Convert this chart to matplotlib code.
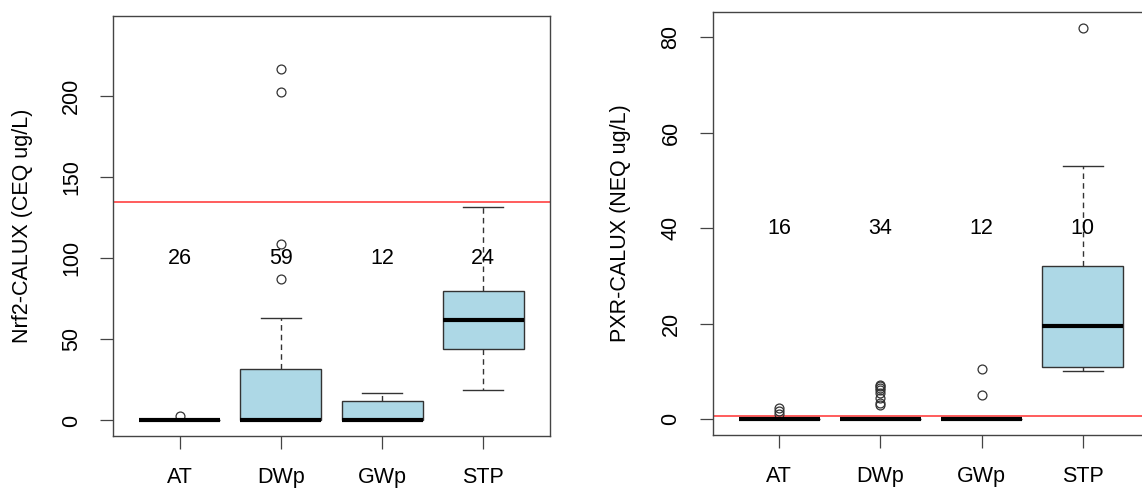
import matplotlib
matplotlib.use("Agg")
import matplotlib.pyplot as plt

plt.rcParams['font.family'] = ['Liberation Sans', 'DejaVu Sans']

groups = ["AT", "DWp", "GWp", "STP"]

# Left panel: Nrf2-CALUX
nrf2_q1 = [0, 0, 0, 44]
nrf2_med = [0, 0, 0, 62]
nrf2_q3 = [0, 32, 12, 80]
nrf2_whislo = [0, 0, 0, 19]
nrf2_whishi = [0, 63, 17, 132]
nrf2_fliers = [[3], [87, 109, 203, 217], [], []]
nrf2_n = ["26", "59", "12", "24"]
nrf2_threshold = 135
nrf2_ylim = (0, 240)
nrf2_yticks = [0, 50, 100, 150, 200]
nrf2_label_y = 100
nrf2_ylabel = "Nrf2-CALUX (CEQ ug/L)"

# Right panel: PXR-CALUX
pxr_q1 = [0, 0, 0, 11]
pxr_med = [0, 0, 0, 19.5]
pxr_q3 = [0, 0, 0, 32]
pxr_whislo = [0, 0, 0, 10]
pxr_whishi = [0, 0, 0, 53]
pxr_fliers = [[1.1, 1.6, 2.4], [3.0, 3.4, 4.5, 5.4, 6.1, 6.5, 6.9, 7.2], [5, 10.5], [82]]
pxr_n = ["16", "34", "12", "10"]
pxr_threshold = 0.7
pxr_yticks = [0, 20, 40, 60, 80]
pxr_label_y = 40
pxr_ylabel = "PXR-CALUX (NEQ ug/L)"

W, H = 1142, 488
fig = plt.figure(figsize=(W / 100, H / 100), dpi=100)

ax1 = fig.add_axes([113 / W, (H - 436) / H, 437 / W, 420 / H])
ax2 = fig.add_axes([712.5 / W, (H - 434.7) / H, 437 / W, 422.4 / H])

edge = "#333333"
fs = 15.5


def draw(ax, q1, med, q3, wlo, whi, fliers, ns, thr, yticks, ly, ylabel, ylim=None):
    stats = []
    for i, g in enumerate(groups):
        stats.append(dict(label=g, q1=q1[i], med=med[i], q3=q3[i],
                          whislo=wlo[i], whishi=whi[i], fliers=fliers[i]))
    pos = list(range(1, len(groups) + 1))
    ax.axhline(thr, color="#ff3030", lw=1.1, zorder=1)
    ax.bxp(stats, positions=pos, widths=0.8, capwidths=0.4, patch_artist=True,
           boxprops=dict(facecolor="#ADD8E6", edgecolor=edge, lw=1.0),
           medianprops=dict(color="black", lw=3.0, solid_capstyle="butt"),
           whiskerprops=dict(color=edge, lw=1.0, ls=(0, (4, 3))),
           capprops=dict(color=edge, lw=1.0),
           flierprops=dict(marker="o", mfc="none", mec=edge, ms=6.4, mew=0.9))
    for p, t in zip(pos, ns):
        ax.text(p, ly, t, ha="center", va="center", fontsize=fs, zorder=5)
    if ylim is None:
        allv = [v for fl in fliers for v in fl] + list(q1) + list(whi) + list(wlo)
        ylim = (min(allv), max(allv))
    lo, hi = ylim
    pad = (hi - lo) * 0.04
    ax.set_ylim(lo - pad, hi + pad)
    n = len(groups)
    ax.set_xlim(0.5 - 0.04 * n, n + 0.5 + 0.04 * n)
    ax.set_xticks(pos)
    ax.set_xticklabels(groups)
    ax.set_yticks(yticks)
    ax.set_yticklabels([str(v) for v in yticks])
    ax.tick_params(axis="both", length=9.4, width=0.9, color="#444444",
                   pad=13, labelsize=fs)
    for lbl in ax.get_yticklabels():
        lbl.set_rotation(90)
        lbl.set_va("center")
    for s in ax.spines.values():
        s.set_color("#444444")
        s.set_linewidth(1.0)
    ax.set_ylabel(ylabel, fontsize=fs, va="center")


draw(ax1, nrf2_q1, nrf2_med, nrf2_q3, nrf2_whislo, nrf2_whishi, nrf2_fliers,
     nrf2_n, nrf2_threshold, nrf2_yticks, nrf2_label_y, nrf2_ylabel, ylim=nrf2_ylim)
draw(ax2, pxr_q1, pxr_med, pxr_q3, pxr_whislo, pxr_whishi, pxr_fliers,
     pxr_n, pxr_threshold, pxr_yticks, pxr_label_y, pxr_ylabel)

ax1.yaxis.set_label_coords((23 - 113) / 437, 0.5)
ax2.yaxis.set_label_coords((620 - 712.5) / 437, 0.5)

fig.savefig("out.png", dpi=100)
